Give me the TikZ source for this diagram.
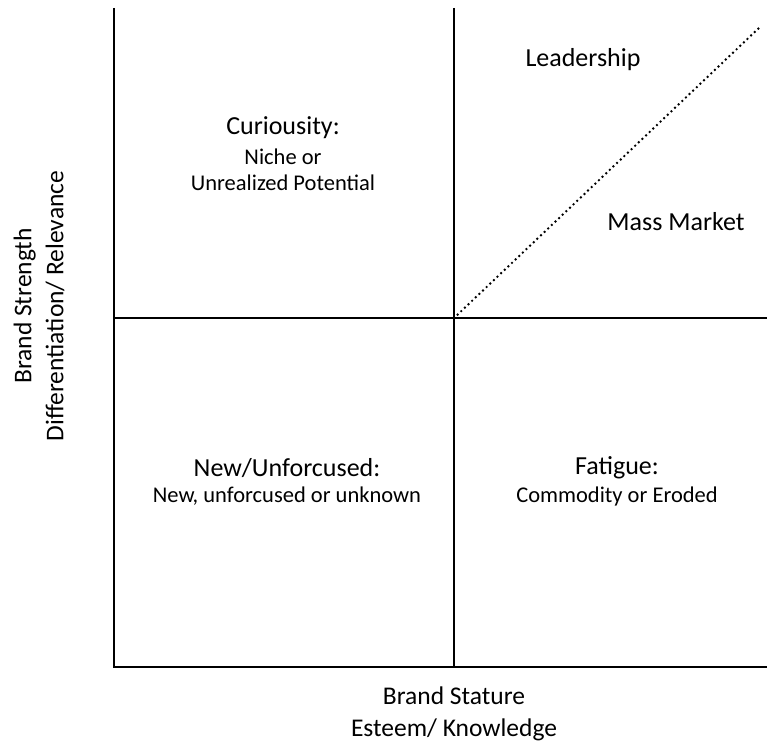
\documentclass[tikz,border=0pt]{standalone}
\usepackage{fontspec}
\setmainfont{Carlito}
\begin{document}
\begin{tikzpicture}[x=1pt,y=-1pt,
  axis/.style={line width=2.2pt},
  diag/.style={line width=2.7pt, line cap=round, dash pattern=on 0pt off 5pt},
  title/.style={font=\fontsize{26}{30}\selectfont, inner sep=0pt},
  sub/.style={font=\fontsize{22.5}{26}\selectfont, inner sep=0pt, align=center},
  lab/.style={font=\fontsize{25.5}{32}\selectfont, inner sep=0pt, align=center}]
\useasboundingbox (0,0) rectangle (767,746);
% quadrant frame
\coordinate (tl) at (114,8);
\coordinate (tm) at (454,8);
\coordinate (bl) at (114,667);
\coordinate (bm) at (454,667);
\coordinate (br) at (767,667);
\coordinate (ml) at (114,318);
\coordinate (mc) at (454,318);
\coordinate (mr) at (767,318);
\coordinate (tr) at (760,27);
\draw[axis] (tl) -- (bl) -- (br);
\draw[axis] (tm) -- (bm);
\draw[axis] (ml) -- (mr);
\draw[diag] (mc) -- (tr);
% quadrant labels
\node[title] (lead) at (583,60) {Leadership};
\node[title] (mass) at (676,222) {Mass Market};
\node[title] (cur) at (283,128) {Curiousity:};
\node[sub] (curs) at (283,170) {Niche or\\Unrealized Potential};
\node[title] (newu) at (287,468) {New/Unforcused:};
\node[sub] (news) at (287,496) {New, unforcused or unknown};
\node[title] (fat) at (617,468) {Fatigue:};
\node[sub] (fats) at (617,496) {Commodity or Eroded};
% axis labels
\node[lab] (xl) at (454,714) {Brand Stature\\Esteem/ Knowledge};
\node[lab, rotate=90] (yl) at (39,306) {Brand Strength\\Differentiation/ Relevance};
\end{tikzpicture}
\end{document}
